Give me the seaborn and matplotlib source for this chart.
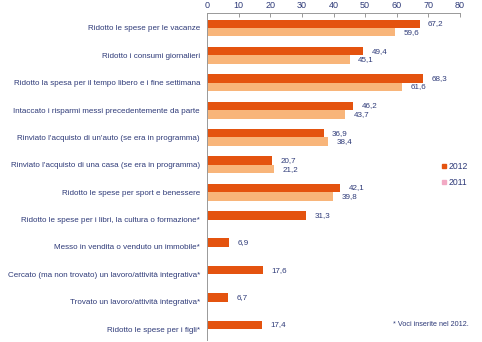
import numpy as np
import pandas as pd
import matplotlib
matplotlib.use("Agg")
import matplotlib.pyplot as plt
import seaborn as sns
from matplotlib.lines import Line2D

categories = [
    "Ridotto le spese per le vacanze",
    "Ridotto i consumi giornalieri",
    "Ridotto la spesa per il tempo libero e i fine settimana",
    "Intaccato i risparmi messi precedentemente da parte",
    "Rinviato l'acquisto di un'auto (se era in programma)",
    "Rinviato l'acquisto di una casa (se era in programma)",
    "Ridotto le spese per sport e benessere",
    "Ridotto le spese per i libri, la cultura o formazione*",
    "Messo in vendita o venduto un immobile*",
    "Cercato (ma non trovato) un lavoro/attività integrativa*",
    "Trovato un lavoro/attività integrativa*",
    "Ridotto le spese per i figli*",
]
values_2012 = [67.2, 49.4, 68.3, 46.2, 36.9, 20.7, 42.1, 31.3, 6.9, 17.6, 6.7, 17.4]
values_2011 = [59.6, 45.1, 61.6, 43.7, 38.4, 21.2, 39.8, np.nan, np.nan, np.nan, np.nan, np.nan]
years = ["2012", "2011"]
x_ticks = [0, 10, 20, 30, 40, 50, 60, 70, 80]
footnote = "* Voci inserite nel 2012."

C2012 = "#E4530F"
C2011 = "#F8B57A"
CLEG2011 = "#F2A9C4"
TXT = "#2E3A78"

sns.set_theme(style="white")
plt.rcParams["font.family"] = ["Liberation Sans", "DejaVu Sans"]

df = pd.DataFrame({
    "cat": categories * 2,
    "val": values_2012 + values_2011,
    "year": ["2012"] * len(categories) + ["2011"] * len(categories),
})

fig = plt.figure(figsize=(4.82, 3.42), dpi=100)
ax = fig.add_axes([207 / 482, 1 - 340 / 342, (460 - 207) / 482, (340 - 13) / 342])

sns.barplot(data=df, y="cat", x="val", hue="year", hue_order=years,
            palette={"2012": C2012, "2011": C2011}, orient="h",
            width=0.62, dodge=True, saturation=1, ax=ax, legend=False,
            linewidth=0, errorbar=None)

for cont in ax.containers:
    labels = []
    for bar in cont:
        w = bar.get_width()
        labels.append("" if (w is None or np.isnan(w) or w == 0) else f"{w:.1f}".replace(".", ","))
    ax.bar_label(cont, labels=labels, padding=6, fontsize=5.8, color=TXT)

ax.set_xlim(0, 80)
ax.set_ylim(11.40, -0.548)
ax.set_xticks(x_ticks)
ax.xaxis.tick_top()
ax.tick_params(axis="x", which="both", top=True, bottom=False, direction="in",
               length=3, width=0.6, color="#888888", labelsize=6.5, labelcolor=TXT, pad=2)
ax.tick_params(axis="y", left=False, length=0, labelsize=5.75, labelcolor=TXT, pad=5)
ax.set_xlabel("")
ax.set_ylabel("")
for s in ["right", "bottom"]:
    ax.spines[s].set_visible(False)
for s in ["top", "left"]:
    ax.spines[s].set_visible(True)
    ax.spines[s].set_color("#999999")
    ax.spines[s].set_linewidth(0.7)

handles = [Line2D([], [], marker="s", linestyle="", color=C2012, markersize=3.5),
           Line2D([], [], marker="s", linestyle="", color=CLEG2011, markersize=3.5)]
fig.legend(handles, years, loc="center left", bbox_to_anchor=(437 / 482, 1 - 174.5 / 342),
           frameon=False, fontsize=6.2, labelcolor=TXT, handlelength=0.6,
           handletextpad=0.2, labelspacing=0.9, borderpad=0)

fig.text(393 / 482, 1 - 325 / 342, footnote, fontsize=5.2, color=TXT, va="center", ha="left")

fig.savefig("out.png", dpi=100)
